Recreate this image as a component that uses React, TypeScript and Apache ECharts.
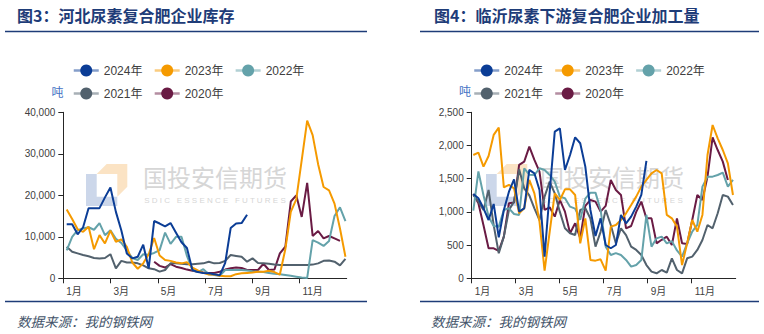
import React, { useEffect, useRef } from 'react';
import * as echarts from 'echarts';

// ---- labels ----
const years = ['2024年', '2023年', '2022年', '2021年', '2020年'];
const colors = ['#0B3D96', '#F59A00', '#64A2AA', '#52616D', '#6A1B44'];
const monthLabels = ['1月', '3月', '5月', '7月', '9月', '11月'];
const leftTitle = '图3：河北尿素复合肥企业库存';
const rightTitle = '图4：临沂尿素下游复合肥企业加工量';
const sourceText = '数据来源：我的钢铁网';
const unitText = '吨';

// ---- 河北尿素复合肥企业库存 (吨), weekly ----
const hebei2024 = [13000, 13000, 10600, 12300, 16900, 16900, 16900, 19500, 21900, 16000, 11500, 6000, 4800, 5200, 8100, 2400, 13800, 13200, 12500, 13300, 11000, 8700, 7300, 2000, 1500, 1300, 1200, 1000, 700, 3700, 12100, 13200, 13300, 15300];
const hebei2023 = [16600, 14300, 11800, 11200, 12400, 7000, 10400, 8400, 11500, 8800, 9400, 7600, 3800, 2300, 3600, 5800, 9700, 5500, 4400, 4200, 3800, 3600, 3900, 2600, 1900, 1300, 900, 900, 600, 500, 500, 1000, 1200, 1300, 1400, 1600, 1600, 1800, 1500, 900, 7000, 16000, 19000, 28500, 38000, 34500, 27500, 22000, 21200, 18000, 12000, 5200];
const hebei2022 = [6700, 10000, 11600, 12000, 12300, 11700, 13300, 10400, 11600, 9500, 8500, 6700, 4900, 4400, 5800, 5700, 6100, 6800, 11000, 8300, 10000, 10000, 5400, 2000, 1500, 2200, 1000, 800, 600, 2000, 2000, 2000, 2000, 1900, 1700, 1600, 1500, 1300, 1100, 1000, 800, 600, 400, 200, 100, 9200, 8600, 7800, 9000, 15000, 17100, 13800];
const hebei2021 = [7600, 6400, 6000, 5600, 5300, 4900, 4800, 4900, 5800, 2400, 4200, 3800, 3800, 3600, 3100, 2400, 2200, 1600, 2000, 3600, 3600, 3500, 3400, 3400, 3500, 3600, 4000, 3600, 3700, 4200, 5600, 5400, 5200, 4000, 4800, 3700, 3600, 3500, 3300, 3200, 3200, 3200, 3200, 3200, 3200, 3300, 3600, 4200, 4300, 4000, 3100, 4700];
const hebei2020 = [null, null, null, null, null, null, null, null, null, null, null, null, null, null, null, null, 4000, 3000, 2600, 3400, 2800, 2500, 2100, 1800, 1600, 1400, 1300, 1300, 1600, 2100, 2400, 2600, 2500, 2000, 2000, 2000, 3500, 2000, 2100, 6000, 7600, 18500, 20000, 14800, 23000, 10200, 11400, 9600, 10200, 9600, 9000];

// ---- 临沂尿素下游复合肥企业加工量, weekly ----
const linyi2024 = [1270, 1205, 1054, 878, 1120, 617, 1029, 1305, 1491, 1004, 1054, 1632, 1581, 1330, 326, 1300, 2209, 2259, 1631, 1857, 2123, 2034, 1682, 1029, 638, 903, 502, 452, 502, 954, 828, 929, 1080, 1255, 1767];
const linyi2023 = [1857, 1893, 1682, 1842, 2159, 2269, 1370, 1406, 1355, 979, 1054, 1481, 1280, 853, 115, 700, 1280, 1180, 1340, 1340, 1255, 527, 903, 276, 266, 286, 115, 778, 803, 878, 979, 1104, 1230, 1380, 1481, 1581, 1631, 1581, 954, 903, 778, 200, 527, 878, 703, 954, 1857, 2309, 2108, 1932, 1732, 1255];
const linyi2022 = [1020, 1610, 1250, 930, 788, 778, 1029, 1054, 969, 954, 1657, 1560, 1556, 1657, 1631, 1556, 1456, 1230, 1205, 1079, 1050, 880, 1200, 1290, 1290, 1029, 477, 351, 380, 351, 276, 176, 201, 276, 954, 477, 602, 627, 527, 560, 420, 326, 527, 703, 803, 1380, 1531, 1531, 1556, 1591, 1380, 1481];
const linyi2021 = [1255, 1155, 1029, 1330, 800, 377, 628, 1029, 1155, 1641, 1355, 1250, 1054, 878, 1230, 1456, 1280, 1000, 753, 678, 652, 1029, 1054, 900, 477, 700, 1029, 803, 527, 753, 650, 477, 427, 351, 200, 100, 75, 125, 85, 301, 125, 75, 301, 326, 427, 577, 803, 753, 979, 1255, 1230, 1104];
const linyi2020 = [1270, 1130, 800, 452, 452, 412, 628, 1130, 1140, 1707, 1757, 1983, 1782, 1606, 1029, 1069, 929, 1180, 1004, 678, 828, 603, 1090, 1180, 1155, 1004, 1090, 1481, 1330, 1255, 753, 788, 1000, 1155, 903, 903, 527, 580, 627, 502, 903, 527, 517, 878, 1255, 1180, 1531, 2123, 1932, 1757, 1481];

// week position in months (x axis runs over 12 months)
const WEEK = 7.04 / 30.42;
const LEFT_START = 0.144;
const RIGHT_START = 0.073;

const FONT = "'Liberation Sans', 'Noto Sans CJK SC', sans-serif";
const CJK = "'Noto Sans CJK SC', sans-serif";

function pairs(vals: (number | null)[], start: number) {
  return vals.map((v, i) => [start + i * WEEK, v]);
}

function xAxisCfg(gridIndex: number) {
  return {
    type: 'value',
    gridIndex,
    min: 0,
    max: 12,
    interval: 2,
    axisLine: { show: true, lineStyle: { color: '#262626', width: 1 } },
    axisTick: { show: true, length: 5, lineStyle: { color: '#262626' } },
    splitLine: { show: false },
    axisLabel: {
      formatter: (v: number) => monthLabels[v / 2] ?? '',
      align: 'left',
      padding: [0, 0, 0, 3],
      fontSize: 10,
      color: '#404040',
      fontFamily: FONT,
      showMaxLabel: false,
    },
  };
}

function yAxisCfg(gridIndex: number, max: number, interval: number) {
  return {
    type: 'value',
    gridIndex,
    min: 0,
    max,
    interval,
    axisLine: { show: true, lineStyle: { color: '#262626', width: 1 } },
    axisTick: { show: true, length: 5, lineStyle: { color: '#262626' } },
    splitLine: { show: false },
    axisLabel: {
      formatter: (v: number) => v.toLocaleString('en-US'),
      fontSize: 10,
      color: '#404040',
      fontFamily: FONT,
    },
  };
}

function legendCfg(left: number) {
  return {
    data: years,
    left,
    top: 59.5,
    width: 250,
    orient: 'horizontal',
    itemWidth: 25,
    itemHeight: 15,
    itemGap: 11,
    textStyle: { fontSize: 12, color: '#404040', fontFamily: FONT, padding: [0, 3, 0, 0] },
    lineStyle: { width: 2.5, opacity: 0.5 },
  };
}

function logo(dx: number, textX: number) {
  const blue = [[86, 174], [96.7, 174], [96.7, 196.7], [117.3, 196.7], [117.3, 206], [86, 206]].map(([x, y]) => [x + dx, y]);
  const orange = [[96.7, 174], [106.7, 164], [127.3, 164], [127.3, 186.7], [117.3, 196.7], [117.3, 174]].map(([x, y]) => [x + dx, y]);
  return [
    { type: 'polygon', z: -1, shape: { points: blue }, style: { fill: '#CCD7EA' } },
    { type: 'polygon', z: -1, shape: { points: orange }, style: { fill: '#FBE3C4' } },
    {
      type: 'text', z: -1, x: textX, y: 176,
      style: { text: '国投安信期货', fontSize: 24, fontFamily: CJK, fill: '#D6D6D6', verticalAlign: 'middle', align: 'left' },
    },
    {
      type: 'text', z: -1, x: textX + 72, y: 200,
      style: { text: 'S D I C   E S S E N C E   F U T U R E S', fontSize: 8, fontFamily: FONT, fill: '#D6D6D6', verticalAlign: 'middle', align: 'center' },
    },
  ];
}

export default function App() {
  const ref = useRef<HTMLDivElement>(null);

  useEffect(() => {
    if (!ref.current) return;
    const chart = echarts.init(ref.current, null, { renderer: 'svg' });

    const leftSets = [hebei2024, hebei2023, hebei2022, hebei2021, hebei2020];
    const rightSets = [linyi2024, linyi2023, linyi2022, linyi2021, linyi2020];
    const series: any[] = [];
    // draw 2020 first so 2024 is on top
    for (let k = years.length - 1; k >= 0; k--) {
      series.push({
        type: 'line', name: years[k], xAxisIndex: 0, yAxisIndex: 0,
        data: pairs(leftSets[k], LEFT_START),
        showSymbol: false, symbol: 'circle',
        lineStyle: { width: 2, color: colors[k] }, itemStyle: { color: colors[k] },
      });
      series.push({
        type: 'line', name: years[k], xAxisIndex: 1, yAxisIndex: 1,
        data: pairs(rightSets[k], RIGHT_START),
        showSymbol: false, symbol: 'circle',
        lineStyle: { width: 2, color: colors[k] }, itemStyle: { color: colors[k] },
      });
    }

    const titleColor = '#1E3C78';
    const option: any = {
      animation: false,
      textStyle: { fontFamily: FONT },
      grid: [
        { left: 63.3, right: 764 - 346.7, top: 112.3, bottom: 334 - 278.3 },
        { left: 471.7, right: 764 - 735.7, top: 112.3, bottom: 334 - 278.3 },
      ],
      xAxis: [xAxisCfg(0), xAxisCfg(1)],
      yAxis: [yAxisCfg(0, 40000, 10000), yAxisCfg(1, 2500, 500)],
      legend: [legendCfg(67.5), legendCfg(468)],
      series,
      graphic: [
        ...logo(0, 143),
        ...logo(400, 540),
        { type: 'text', x: 17, y: 15, style: { text: leftTitle, fontSize: 16, fontWeight: 'bold', fontFamily: CJK, fill: titleColor, verticalAlign: 'middle' } },
        { type: 'text', x: 434, y: 15, style: { text: rightTitle, fontSize: 16, fontWeight: 'bold', fontFamily: CJK, fill: titleColor, verticalAlign: 'middle' } },
        { type: 'line', shape: { x1: 5, y1: 31.5, x2: 367, y2: 31.5 }, style: { stroke: titleColor, lineWidth: 1.5 } },
        { type: 'line', shape: { x1: 420, y1: 31.5, x2: 759, y2: 31.5 }, style: { stroke: titleColor, lineWidth: 1.5 } },
        { type: 'line', shape: { x1: 5, y1: 301.5, x2: 367, y2: 301.5 }, style: { stroke: titleColor, lineWidth: 1.5 } },
        { type: 'line', shape: { x1: 420, y1: 301.5, x2: 759, y2: 301.5 }, style: { stroke: titleColor, lineWidth: 1.5 } },
        { type: 'text', x: 17, y: 321, style: { text: sourceText, fontSize: 13.5, fontStyle: 'italic', fontFamily: CJK, fill: '#44546A', verticalAlign: 'middle' } },
        { type: 'text', x: 431, y: 321, style: { text: sourceText, fontSize: 13.5, fontStyle: 'italic', fontFamily: CJK, fill: '#44546A', verticalAlign: 'middle' } },
        { type: 'text', x: 57.5, y: 91, style: { text: unitText, fontSize: 12, fontFamily: CJK, fill: '#4472C4', align: 'center', verticalAlign: 'middle' } },
        { type: 'text', x: 465, y: 90, style: { text: unitText, fontSize: 12, fontFamily: CJK, fill: '#4472C4', align: 'center', verticalAlign: 'middle' } },
      ],
    };

    chart.setOption(option);
    return () => chart.dispose();
  }, []);

  return (
    <div
      ref={ref}
      style={{ position: 'fixed', left: 0, top: 0, width: 764, height: 334, background: '#ffffff' }}
    />
  );
}
